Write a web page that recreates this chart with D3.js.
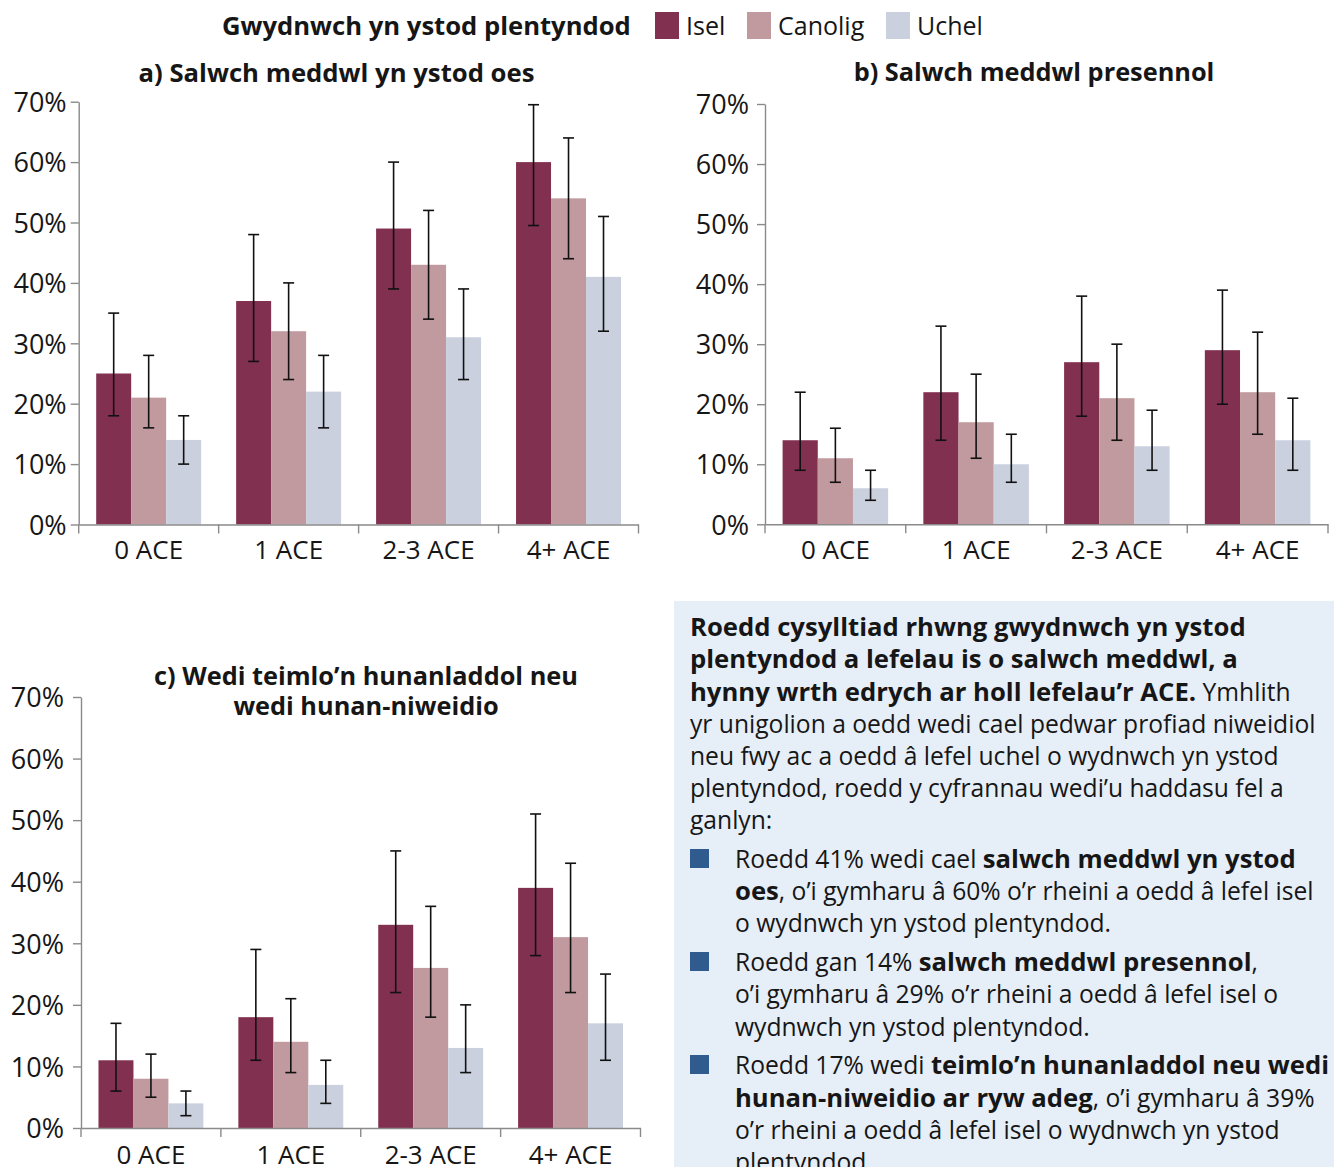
<!DOCTYPE html>
<html>
<head>
<meta charset="utf-8">
<script src="https://cdn.jsdelivr.net/npm/d3@7"></script>
<style>
body{margin:0;background:#fff}
svg{display:block}
text{font-family:'Open Sans',sans-serif;fill:#161616}
</style>
</head>
<body>
<svg id="chart" width="1334" height="1167"></svg>
<script>
// ---------- data ----------
const categories = ["0 ACE", "1 ACE", "2-3 ACE", "4+ ACE"];
const seriesNames = ["Isel", "Canolig", "Uchel"];
const seriesColors = ["#82304f", "#c09a9e", "#cad0de"];
const yTicks = [0, 10, 20, 30, 40, 50, 60, 70];
const legendTitle = "Gwydnwch yn ystod plentyndod";

// a) Salwch meddwl yn ystod oes
const aIsel = [25, 37, 49, 60];
const aIselCI = [[18, 35], [27, 48], [39, 60], [49.5, 69.5]];
const aCanolig = [21, 32, 43, 54];
const aCanoligCI = [[16, 28], [24, 40], [34, 52], [44, 64]];
const aUchel = [14, 22, 31, 41];
const aUchelCI = [[10, 18], [16, 28], [24, 39], [32, 51]];

// b) Salwch meddwl presennol
const bIsel = [14, 22, 27, 29];
const bIselCI = [[9, 22], [14, 33], [18, 38], [20, 39]];
const bCanolig = [11, 17, 21, 22];
const bCanoligCI = [[7, 16], [11, 25], [14, 30], [15, 32]];
const bUchel = [6, 10, 13, 14];
const bUchelCI = [[4, 9], [7, 15], [9, 19], [9, 21]];

// c) Wedi teimlo'n hunanladdol neu wedi hunan-niweidio
const cIsel = [11, 18, 33, 39];
const cIselCI = [[6, 17], [11, 29], [22, 45], [28, 51]];
const cCanolig = [8, 14, 26, 31];
const cCanoligCI = [[5, 12], [9, 21], [18, 36], [22, 43]];
const cUchel = [4, 7, 13, 17];
const cUchelCI = [[2, 6], [4, 11], [9, 20], [11, 25]];

// text box content
const introLines = [
  [["Roedd cysylltiad rhwng gwydnwch yn ystod", true]],
  [["plentyndod a lefelau is o salwch meddwl, a", true]],
  [["hynny wrth edrych ar holl lefelau’r ACE.", true], [" Ymhlith", false]],
  [["yr unigolion a oedd wedi cael pedwar profiad niweidiol", false]],
  [["neu fwy ac a oedd â lefel uchel o wydnwch yn ystod", false]],
  [["plentyndod, roedd y cyfrannau wedi’u haddasu fel a", false]],
  [["ganlyn:", false]]
];
const bullets = [
  [
    [["Roedd 41% wedi cael ", false], ["salwch meddwl yn ystod", true]],
    [["oes", true], [", o’i gymharu â 60% o’r rheini a oedd â lefel isel", false]],
    [["o wydnwch yn ystod plentyndod.", false]]
  ],
  [
    [["Roedd gan 14% ", false], ["salwch meddwl presennol", true], [",", false]],
    [["o’i gymharu â 29% o’r rheini a oedd â lefel isel o", false]],
    [["wydnwch yn ystod plentyndod.", false]]
  ],
  [
    [["Roedd 17% wedi ", false], ["teimlo’n hunanladdol neu wedi", true]],
    [["hunan-niweidio ar ryw adeg", true], [", o’i gymharu â 39%", false]],
    [["o’r rheini a oedd â lefel isel o wydnwch yn ystod", false]],
    [["plentyndod.", false]]
  ]
];

// ---------- drawing ----------
const svg = d3.select("#chart");

function fit(sel, targetW) {
  const w = sel.node().getComputedTextLength();
  const fs = parseFloat(sel.attr("font-size"));
  const nfs = fs * targetW / w;
  sel.attr("font-size", nfs);
  return nfs;
}

// legend
const lt = svg.append("text").attr("x", 222).attr("y", 35)
  .attr("font-size", 25).attr("font-weight", 700).text(legendTitle);
fit(lt, 409);
const legendX = [655, 747, 886];
seriesNames.forEach((s, i) => {
  svg.append("rect").attr("x", legendX[i]).attr("y", 12).attr("width", 24).attr("height", 27)
    .attr("fill", seriesColors[i]);
  svg.append("text").attr("x", legendX[i] + 31).attr("y", 35).attr("font-size", 25).text(s);
});

function drawChart(cfg) {
  const g = svg.append("g");
  const y = d3.scaleLinear().domain([0, 70]).range([cfg.bottom, cfg.top]);
  const x0 = d3.scaleBand().domain(categories).range([cfg.left, cfg.right]);
  const bw = x0.bandwidth();
  const x1 = d3.scaleBand().domain(seriesNames).range([bw * 0.125, bw * 0.875]);

  // bars
  cfg.values.forEach((vals, si) => {
    g.append("g").selectAll("rect").data(vals).join("rect")
      .attr("x", (d, i) => x0(categories[i]) + x1(seriesNames[si]))
      .attr("y", d => y(d))
      .attr("width", x1.bandwidth())
      .attr("height", d => y(0) - y(d))
      .attr("fill", seriesColors[si]);
  });

  // error bars
  cfg.cis.forEach((cis, si) => {
    const eg = g.append("g").attr("stroke", "#111").attr("stroke-width", 1.6).attr("fill", "none");
    cis.forEach((ci, i) => {
      const cx = x0(categories[i]) + x1(seriesNames[si]) + x1.bandwidth() / 2;
      eg.append("line").attr("x1", cx).attr("x2", cx).attr("y1", y(ci[0])).attr("y2", y(ci[1]));
      eg.append("line").attr("x1", cx - 5.5).attr("x2", cx + 5.5).attr("y1", y(ci[0])).attr("y2", y(ci[0]));
      eg.append("line").attr("x1", cx - 5.5).attr("x2", cx + 5.5).attr("y1", y(ci[1])).attr("y2", y(ci[1]));
    });
  });

  // y axis
  const ya = g.append("g").attr("transform", `translate(${cfg.left},0)`)
    .call(d3.axisLeft(y).tickValues(yTicks).tickFormat(d => d + "%")
      .tickSizeInner(8).tickSizeOuter(0).tickPadding(cfg.tickPad));
  ya.select(".domain").attr("stroke", "#8a8a8a").attr("stroke-width", 1.4);
  ya.selectAll(".tick line").attr("stroke", "#8a8a8a").attr("stroke-width", 1.4);
  ya.selectAll(".tick text").attr("font-size", 27).attr("font-family", "'Open Sans',sans-serif")
    .attr("fill", "#161616").attr("dy", "0.36em");

  // x axis
  const xa = g.append("g").attr("transform", `translate(0,${cfg.bottom})`)
    .call(d3.axisBottom(x0).tickSizeInner(0).tickSizeOuter(0).tickPadding(cfg.xPad));
  xa.select(".domain").attr("stroke", "#8a8a8a").attr("stroke-width", 1.4);
  xa.selectAll(".tick text").attr("font-size", 26).attr("font-family", "'Open Sans',sans-serif")
    .attr("fill", "#161616");
  const bounds = categories.map(c => x0(c)).concat([cfg.right]);
  xa.selectAll("line.bound").data(bounds).join("line").attr("class", "bound")
    .attr("x1", d => d).attr("x2", d => d).attr("y1", 0).attr("y2", 9)
    .attr("stroke", "#8a8a8a").attr("stroke-width", 1.4);

  // title
  let fs = null;
  cfg.titles.forEach((t, i) => {
    const tt = svg.append("text").attr("x", cfg.titleX).attr("y", cfg.titleY[i])
      .attr("text-anchor", "middle").attr("font-weight", 700).attr("font-size", fs || 24).text(t);
    if (i === 0) fs = fit(tt, cfg.titleW);
  });
}

drawChart({
  left: 78.7, right: 638.5, top: 101.7, bottom: 524.5, tickPad: 4, xPad: 16,
  titles: ["a) Salwch meddwl yn ystod oes"], titleX: 336.5, titleY: [82], titleW: 396,
  values: [aIsel, aCanolig, aUchel], cis: [aIselCI, aCanoligCI, aUchelCI]
});
drawChart({
  left: 765, right: 1328, top: 104, bottom: 524.3, tickPad: 8, xPad: 16,
  titles: ["b) Salwch meddwl presennol"], titleX: 1034, titleY: [81], titleW: 361,
  values: [bIsel, bCanolig, bUchel], cis: [bIselCI, bCanoligCI, bUchelCI]
});
drawChart({
  left: 81, right: 640.5, top: 697, bottom: 1128, tickPad: 9, xPad: 18,
  titles: ["c) Wedi teimlo’n hunanladdol neu", "wedi hunan-niweidio"], titleX: 366,
  titleY: [685, 715], titleW: 424,
  values: [cIsel, cCanolig, cUchel], cis: [cIselCI, cCanoligCI, cUchelCI]
});

// text box
svg.append("rect").attr("x", 674).attr("y", 601).attr("width", 660).attr("height", 566)
  .attr("fill", "#e6eef8");

// determine paragraph font sizes from reference lines
const probe = svg.append("text").attr("font-size", 24).text(introLines[3][0][0]);
const pfs = 24 * 626 / probe.node().getComputedTextLength();
probe.attr("font-weight", 700).text(introLines[0][0][0]);
const bfs = 24 * 556 / probe.node().getComputedTextLength();
probe.remove();

function writeLine(x, yb, segs) {
  const t = svg.append("text").attr("x", x).attr("y", yb).attr("font-size", pfs)
    .attr("xml:space", "preserve").style("white-space", "pre");
  segs.forEach(s => t.append("tspan").attr("font-weight", s[1] ? 700 : 400)
    .attr("font-size", s[1] ? bfs : pfs).text(s[0]));
}

const introY = [636, 668, 700.5, 732.5, 765, 797, 829];
introLines.forEach((l, i) => writeLine(690, introY[i], l));

const bulletY = [[868, 900, 932], [971, 1003, 1035.5], [1074, 1106.5, 1138.5, 1171]];
bullets.forEach((b, bi) => {
  svg.append("rect").attr("x", 690).attr("y", bulletY[bi][0] - 19).attr("width", 19).attr("height", 19)
    .attr("fill", "#2f5b8e");
  b.forEach((l, li) => writeLine(735, bulletY[bi][li], l));
});
</script>
</body>
</html>
